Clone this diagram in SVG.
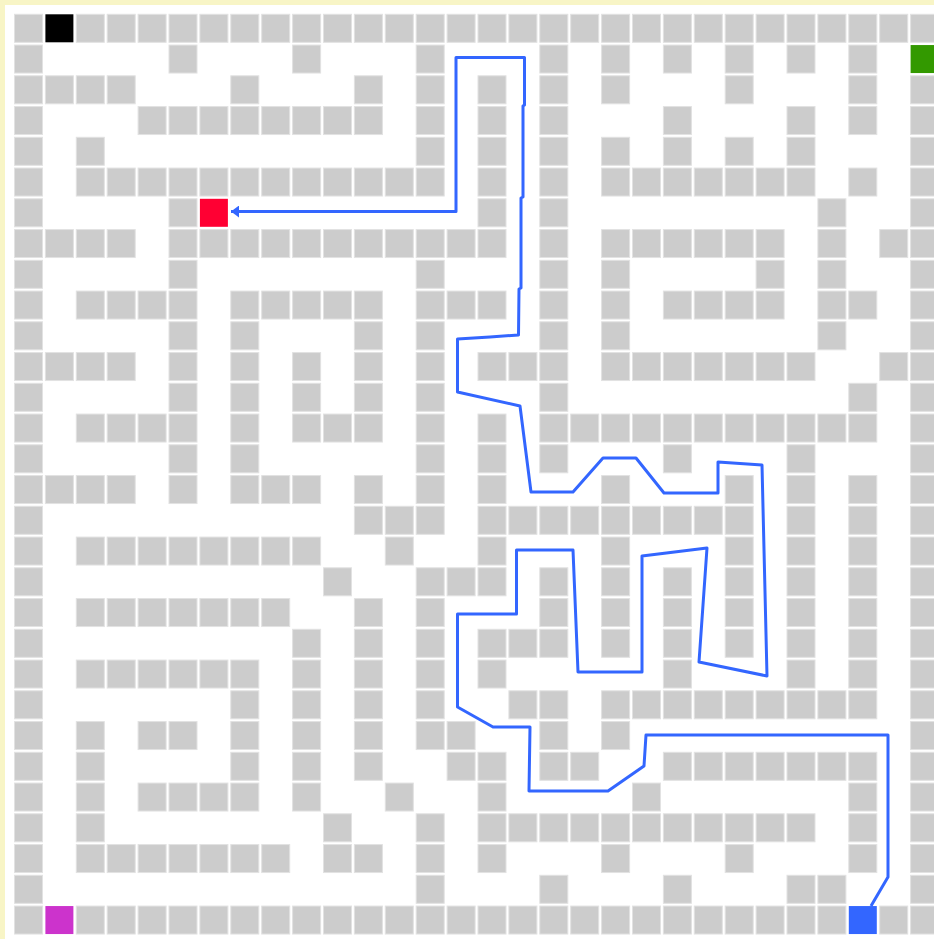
<svg xmlns="http://www.w3.org/2000/svg" xmlns:xlink="http://www.w3.org/1999/xlink" width="934" height="939" viewBox="0 0 934 939">
<style>
.w{fill:#cccccc;stroke:#e2e2e2;stroke-width:1}
.path{fill:none;stroke:#3366ff;stroke-width:3;stroke-linejoin:round}
</style>
<defs>
<rect id="g" class="w" width="28" height="28"/>
<marker id="ah" markerUnits="userSpaceOnUse" markerWidth="8" markerHeight="12" viewBox="0 0 8 12" refX="8" refY="6" orient="auto-start-reverse">
<path d="M0,0 L8,6 L0,12 z" fill="#3366ff"/>
</marker>
</defs>
<rect width="934" height="939" fill="#f8f5c6"/>
<rect x="5" y="5" width="929" height="934" fill="#ffffff"/>
<g id="maze">
<g id="r0" transform="translate(0,14.3)"><use href="#g" x="14.5"/><use href="#g" x="76.3"/><use href="#g" x="107.2"/><use href="#g" x="138.1"/><use href="#g" x="169"/><use href="#g" x="199.9"/><use href="#g" x="230.8"/><use href="#g" x="261.7"/><use href="#g" x="292.6"/><use href="#g" x="323.5"/><use href="#g" x="354.4"/><use href="#g" x="385.3"/><use href="#g" x="416.2"/><use href="#g" x="447.1"/><use href="#g" x="478"/><use href="#g" x="508.9"/><use href="#g" x="539.8"/><use href="#g" x="570.7"/><use href="#g" x="601.6"/><use href="#g" x="632.5"/><use href="#g" x="663.4"/><use href="#g" x="694.3"/><use href="#g" x="725.2"/><use href="#g" x="756.1"/><use href="#g" x="787"/><use href="#g" x="817.9"/><use href="#g" x="848.8"/><use href="#g" x="879.7"/><use href="#g" x="910.6"/></g>
<g id="r1" transform="translate(0,45.05)"><use href="#g" x="14.5"/><use href="#g" x="169"/><use href="#g" x="292.6"/><use href="#g" x="416.2"/><use href="#g" x="539.8"/><use href="#g" x="601.6"/><use href="#g" x="663.4"/><use href="#g" x="725.2"/><use href="#g" x="787"/><use href="#g" x="848.8"/></g>
<g id="r2" transform="translate(0,75.8)"><use href="#g" x="14.5"/><use href="#g" x="45.4"/><use href="#g" x="76.3"/><use href="#g" x="107.2"/><use href="#g" x="230.8"/><use href="#g" x="354.4"/><use href="#g" x="416.2"/><use href="#g" x="478"/><use href="#g" x="539.8"/><use href="#g" x="601.6"/><use href="#g" x="725.2"/><use href="#g" x="848.8"/><use href="#g" x="910.6"/></g>
<g id="r3" transform="translate(0,106.55)"><use href="#g" x="14.5"/><use href="#g" x="138.1"/><use href="#g" x="169"/><use href="#g" x="199.9"/><use href="#g" x="230.8"/><use href="#g" x="261.7"/><use href="#g" x="292.6"/><use href="#g" x="323.5"/><use href="#g" x="354.4"/><use href="#g" x="416.2"/><use href="#g" x="478"/><use href="#g" x="539.8"/><use href="#g" x="663.4"/><use href="#g" x="787"/><use href="#g" x="848.8"/><use href="#g" x="910.6"/></g>
<g id="r4" transform="translate(0,137.3)"><use href="#g" x="14.5"/><use href="#g" x="76.3"/><use href="#g" x="416.2"/><use href="#g" x="478"/><use href="#g" x="539.8"/><use href="#g" x="601.6"/><use href="#g" x="663.4"/><use href="#g" x="725.2"/><use href="#g" x="787"/><use href="#g" x="910.6"/></g>
<g id="r5" transform="translate(0,168.05)"><use href="#g" x="14.5"/><use href="#g" x="76.3"/><use href="#g" x="107.2"/><use href="#g" x="138.1"/><use href="#g" x="169"/><use href="#g" x="199.9"/><use href="#g" x="230.8"/><use href="#g" x="261.7"/><use href="#g" x="292.6"/><use href="#g" x="323.5"/><use href="#g" x="354.4"/><use href="#g" x="385.3"/><use href="#g" x="416.2"/><use href="#g" x="478"/><use href="#g" x="539.8"/><use href="#g" x="601.6"/><use href="#g" x="632.5"/><use href="#g" x="663.4"/><use href="#g" x="694.3"/><use href="#g" x="725.2"/><use href="#g" x="756.1"/><use href="#g" x="787"/><use href="#g" x="848.8"/><use href="#g" x="910.6"/></g>
<g id="r6" transform="translate(0,198.8)"><use href="#g" x="14.5"/><use href="#g" x="169"/><use href="#g" x="478"/><use href="#g" x="539.8"/><use href="#g" x="817.9"/><use href="#g" x="910.6"/></g>
<g id="r7" transform="translate(0,229.55)"><use href="#g" x="14.5"/><use href="#g" x="45.4"/><use href="#g" x="76.3"/><use href="#g" x="107.2"/><use href="#g" x="169"/><use href="#g" x="199.9"/><use href="#g" x="230.8"/><use href="#g" x="261.7"/><use href="#g" x="292.6"/><use href="#g" x="323.5"/><use href="#g" x="354.4"/><use href="#g" x="385.3"/><use href="#g" x="416.2"/><use href="#g" x="447.1"/><use href="#g" x="478"/><use href="#g" x="539.8"/><use href="#g" x="601.6"/><use href="#g" x="632.5"/><use href="#g" x="663.4"/><use href="#g" x="694.3"/><use href="#g" x="725.2"/><use href="#g" x="756.1"/><use href="#g" x="817.9"/><use href="#g" x="879.7"/><use href="#g" x="910.6"/></g>
<g id="r8" transform="translate(0,260.3)"><use href="#g" x="14.5"/><use href="#g" x="169"/><use href="#g" x="416.2"/><use href="#g" x="539.8"/><use href="#g" x="601.6"/><use href="#g" x="756.1"/><use href="#g" x="817.9"/><use href="#g" x="910.6"/></g>
<g id="r9" transform="translate(0,291.05)"><use href="#g" x="14.5"/><use href="#g" x="76.3"/><use href="#g" x="107.2"/><use href="#g" x="138.1"/><use href="#g" x="169"/><use href="#g" x="230.8"/><use href="#g" x="261.7"/><use href="#g" x="292.6"/><use href="#g" x="323.5"/><use href="#g" x="354.4"/><use href="#g" x="416.2"/><use href="#g" x="447.1"/><use href="#g" x="478"/><use href="#g" x="539.8"/><use href="#g" x="601.6"/><use href="#g" x="663.4"/><use href="#g" x="694.3"/><use href="#g" x="725.2"/><use href="#g" x="756.1"/><use href="#g" x="817.9"/><use href="#g" x="848.8"/><use href="#g" x="910.6"/></g>
<g id="r10" transform="translate(0,321.8)"><use href="#g" x="14.5"/><use href="#g" x="169"/><use href="#g" x="230.8"/><use href="#g" x="354.4"/><use href="#g" x="416.2"/><use href="#g" x="539.8"/><use href="#g" x="601.6"/><use href="#g" x="817.9"/><use href="#g" x="910.6"/></g>
<g id="r11" transform="translate(0,352.55)"><use href="#g" x="14.5"/><use href="#g" x="45.4"/><use href="#g" x="76.3"/><use href="#g" x="107.2"/><use href="#g" x="169"/><use href="#g" x="230.8"/><use href="#g" x="292.6"/><use href="#g" x="354.4"/><use href="#g" x="416.2"/><use href="#g" x="478"/><use href="#g" x="508.9"/><use href="#g" x="539.8"/><use href="#g" x="601.6"/><use href="#g" x="632.5"/><use href="#g" x="663.4"/><use href="#g" x="694.3"/><use href="#g" x="725.2"/><use href="#g" x="756.1"/><use href="#g" x="787"/><use href="#g" x="879.7"/><use href="#g" x="910.6"/></g>
<g id="r12" transform="translate(0,383.3)"><use href="#g" x="14.5"/><use href="#g" x="169"/><use href="#g" x="230.8"/><use href="#g" x="292.6"/><use href="#g" x="354.4"/><use href="#g" x="416.2"/><use href="#g" x="539.8"/><use href="#g" x="848.8"/><use href="#g" x="910.6"/></g>
<g id="r13" transform="translate(0,414.05)"><use href="#g" x="14.5"/><use href="#g" x="76.3"/><use href="#g" x="107.2"/><use href="#g" x="138.1"/><use href="#g" x="169"/><use href="#g" x="230.8"/><use href="#g" x="292.6"/><use href="#g" x="323.5"/><use href="#g" x="354.4"/><use href="#g" x="416.2"/><use href="#g" x="478"/><use href="#g" x="539.8"/><use href="#g" x="570.7"/><use href="#g" x="601.6"/><use href="#g" x="632.5"/><use href="#g" x="663.4"/><use href="#g" x="694.3"/><use href="#g" x="725.2"/><use href="#g" x="756.1"/><use href="#g" x="787"/><use href="#g" x="817.9"/><use href="#g" x="848.8"/><use href="#g" x="910.6"/></g>
<g id="r14" transform="translate(0,444.8)"><use href="#g" x="14.5"/><use href="#g" x="169"/><use href="#g" x="230.8"/><use href="#g" x="416.2"/><use href="#g" x="478"/><use href="#g" x="539.8"/><use href="#g" x="663.4"/><use href="#g" x="787"/><use href="#g" x="910.6"/></g>
<g id="r15" transform="translate(0,475.55)"><use href="#g" x="14.5"/><use href="#g" x="45.4"/><use href="#g" x="76.3"/><use href="#g" x="107.2"/><use href="#g" x="169"/><use href="#g" x="230.8"/><use href="#g" x="261.7"/><use href="#g" x="292.6"/><use href="#g" x="354.4"/><use href="#g" x="416.2"/><use href="#g" x="478"/><use href="#g" x="601.6"/><use href="#g" x="725.2"/><use href="#g" x="787"/><use href="#g" x="848.8"/><use href="#g" x="910.6"/></g>
<g id="r16" transform="translate(0,506.3)"><use href="#g" x="14.5"/><use href="#g" x="354.4"/><use href="#g" x="385.3"/><use href="#g" x="416.2"/><use href="#g" x="478"/><use href="#g" x="508.9"/><use href="#g" x="539.8"/><use href="#g" x="570.7"/><use href="#g" x="601.6"/><use href="#g" x="632.5"/><use href="#g" x="663.4"/><use href="#g" x="694.3"/><use href="#g" x="725.2"/><use href="#g" x="787"/><use href="#g" x="848.8"/><use href="#g" x="910.6"/></g>
<g id="r17" transform="translate(0,537.05)"><use href="#g" x="14.5"/><use href="#g" x="76.3"/><use href="#g" x="107.2"/><use href="#g" x="138.1"/><use href="#g" x="169"/><use href="#g" x="199.9"/><use href="#g" x="230.8"/><use href="#g" x="261.7"/><use href="#g" x="292.6"/><use href="#g" x="385.3"/><use href="#g" x="478"/><use href="#g" x="601.6"/><use href="#g" x="725.2"/><use href="#g" x="787"/><use href="#g" x="848.8"/><use href="#g" x="910.6"/></g>
<g id="r18" transform="translate(0,567.8)"><use href="#g" x="14.5"/><use href="#g" x="323.5"/><use href="#g" x="416.2"/><use href="#g" x="447.1"/><use href="#g" x="478"/><use href="#g" x="539.8"/><use href="#g" x="601.6"/><use href="#g" x="663.4"/><use href="#g" x="725.2"/><use href="#g" x="787"/><use href="#g" x="848.8"/><use href="#g" x="910.6"/></g>
<g id="r19" transform="translate(0,598.55)"><use href="#g" x="14.5"/><use href="#g" x="76.3"/><use href="#g" x="107.2"/><use href="#g" x="138.1"/><use href="#g" x="169"/><use href="#g" x="199.9"/><use href="#g" x="230.8"/><use href="#g" x="261.7"/><use href="#g" x="354.4"/><use href="#g" x="416.2"/><use href="#g" x="539.8"/><use href="#g" x="601.6"/><use href="#g" x="663.4"/><use href="#g" x="725.2"/><use href="#g" x="787"/><use href="#g" x="848.8"/><use href="#g" x="910.6"/></g>
<g id="r20" transform="translate(0,629.3)"><use href="#g" x="14.5"/><use href="#g" x="292.6"/><use href="#g" x="354.4"/><use href="#g" x="416.2"/><use href="#g" x="478"/><use href="#g" x="508.9"/><use href="#g" x="539.8"/><use href="#g" x="601.6"/><use href="#g" x="663.4"/><use href="#g" x="725.2"/><use href="#g" x="787"/><use href="#g" x="848.8"/><use href="#g" x="910.6"/></g>
<g id="r21" transform="translate(0,660.05)"><use href="#g" x="14.5"/><use href="#g" x="76.3"/><use href="#g" x="107.2"/><use href="#g" x="138.1"/><use href="#g" x="169"/><use href="#g" x="199.9"/><use href="#g" x="230.8"/><use href="#g" x="292.6"/><use href="#g" x="354.4"/><use href="#g" x="416.2"/><use href="#g" x="478"/><use href="#g" x="663.4"/><use href="#g" x="787"/><use href="#g" x="848.8"/><use href="#g" x="910.6"/></g>
<g id="r22" transform="translate(0,690.8)"><use href="#g" x="14.5"/><use href="#g" x="230.8"/><use href="#g" x="292.6"/><use href="#g" x="354.4"/><use href="#g" x="416.2"/><use href="#g" x="508.9"/><use href="#g" x="539.8"/><use href="#g" x="601.6"/><use href="#g" x="632.5"/><use href="#g" x="663.4"/><use href="#g" x="694.3"/><use href="#g" x="725.2"/><use href="#g" x="756.1"/><use href="#g" x="787"/><use href="#g" x="817.9"/><use href="#g" x="848.8"/><use href="#g" x="910.6"/></g>
<g id="r23" transform="translate(0,721.55)"><use href="#g" x="14.5"/><use href="#g" x="76.3"/><use href="#g" x="138.1"/><use href="#g" x="169"/><use href="#g" x="230.8"/><use href="#g" x="292.6"/><use href="#g" x="354.4"/><use href="#g" x="416.2"/><use href="#g" x="447.1"/><use href="#g" x="539.8"/><use href="#g" x="601.6"/><use href="#g" x="910.6"/></g>
<g id="r24" transform="translate(0,752.3)"><use href="#g" x="14.5"/><use href="#g" x="76.3"/><use href="#g" x="230.8"/><use href="#g" x="292.6"/><use href="#g" x="354.4"/><use href="#g" x="447.1"/><use href="#g" x="478"/><use href="#g" x="539.8"/><use href="#g" x="570.7"/><use href="#g" x="663.4"/><use href="#g" x="694.3"/><use href="#g" x="725.2"/><use href="#g" x="756.1"/><use href="#g" x="787"/><use href="#g" x="817.9"/><use href="#g" x="848.8"/><use href="#g" x="910.6"/></g>
<g id="r25" transform="translate(0,783.05)"><use href="#g" x="14.5"/><use href="#g" x="76.3"/><use href="#g" x="138.1"/><use href="#g" x="169"/><use href="#g" x="199.9"/><use href="#g" x="230.8"/><use href="#g" x="292.6"/><use href="#g" x="385.3"/><use href="#g" x="478"/><use href="#g" x="632.5"/><use href="#g" x="848.8"/><use href="#g" x="910.6"/></g>
<g id="r26" transform="translate(0,813.8)"><use href="#g" x="14.5"/><use href="#g" x="76.3"/><use href="#g" x="323.5"/><use href="#g" x="416.2"/><use href="#g" x="478"/><use href="#g" x="508.9"/><use href="#g" x="539.8"/><use href="#g" x="570.7"/><use href="#g" x="601.6"/><use href="#g" x="632.5"/><use href="#g" x="663.4"/><use href="#g" x="694.3"/><use href="#g" x="725.2"/><use href="#g" x="756.1"/><use href="#g" x="787"/><use href="#g" x="848.8"/><use href="#g" x="910.6"/></g>
<g id="r27" transform="translate(0,844.55)"><use href="#g" x="14.5"/><use href="#g" x="76.3"/><use href="#g" x="107.2"/><use href="#g" x="138.1"/><use href="#g" x="169"/><use href="#g" x="199.9"/><use href="#g" x="230.8"/><use href="#g" x="261.7"/><use href="#g" x="323.5"/><use href="#g" x="354.4"/><use href="#g" x="416.2"/><use href="#g" x="478"/><use href="#g" x="601.6"/><use href="#g" x="725.2"/><use href="#g" x="848.8"/><use href="#g" x="910.6"/></g>
<g id="r28" transform="translate(0,875.3)"><use href="#g" x="14.5"/><use href="#g" x="416.2"/><use href="#g" x="539.8"/><use href="#g" x="663.4"/><use href="#g" x="787"/><use href="#g" x="817.9"/><use href="#g" x="910.6"/></g>
<g id="r29" transform="translate(0,906.05)"><use href="#g" x="14.5"/><use href="#g" x="76.3"/><use href="#g" x="107.2"/><use href="#g" x="138.1"/><use href="#g" x="169"/><use href="#g" x="199.9"/><use href="#g" x="230.8"/><use href="#g" x="261.7"/><use href="#g" x="292.6"/><use href="#g" x="323.5"/><use href="#g" x="354.4"/><use href="#g" x="385.3"/><use href="#g" x="416.2"/><use href="#g" x="447.1"/><use href="#g" x="478"/><use href="#g" x="508.9"/><use href="#g" x="539.8"/><use href="#g" x="570.7"/><use href="#g" x="601.6"/><use href="#g" x="632.5"/><use href="#g" x="663.4"/><use href="#g" x="694.3"/><use href="#g" x="725.2"/><use href="#g" x="756.1"/><use href="#g" x="787"/><use href="#g" x="817.9"/><use href="#g" x="879.7"/><use href="#g" x="910.6"/></g>
</g>
<g id="start-black"><rect x="45.4" y="14.3" width="28" height="28" fill="#000000"/></g>
<g id="goal-green"><rect x="910.6" y="45.05" width="28" height="28" fill="#339900"/></g>
<g id="target-red"><rect x="199.9" y="198.8" width="28" height="28" fill="#ff0033"/></g>
<g id="magenta"><rect x="45.4" y="906.05" width="28" height="28" fill="#cc33cc"/></g>
<g id="blue"><rect x="848.8" y="906.05" width="28" height="28" fill="#3366ff"/></g>
<g id="connectors">
<path class="path" marker-start="url(#ah)" d="M231,211.5 L456,211.5 L456,57.5 L524.5,57.5 L524.5,105 L523,106 L523,197 L521,198 L521,288 L519,289 L518.5,335 L490,337 L457.5,339 L457.5,392 L520,406 L531,492 L573,492 L603,458 L636,458 L664,493 L718,493 L718,462 L762,465 L767,676 L699,662 L707,548 L642,556 L642,672 L578,672 L573,550 L516.5,550 L516.5,614 L457.5,614 L457.5,707 L493,727 L530,727 L529,791 L608,791 L644,766 L646,735 L888,735 L888,877 L871,906"/>
</g>
</svg>
